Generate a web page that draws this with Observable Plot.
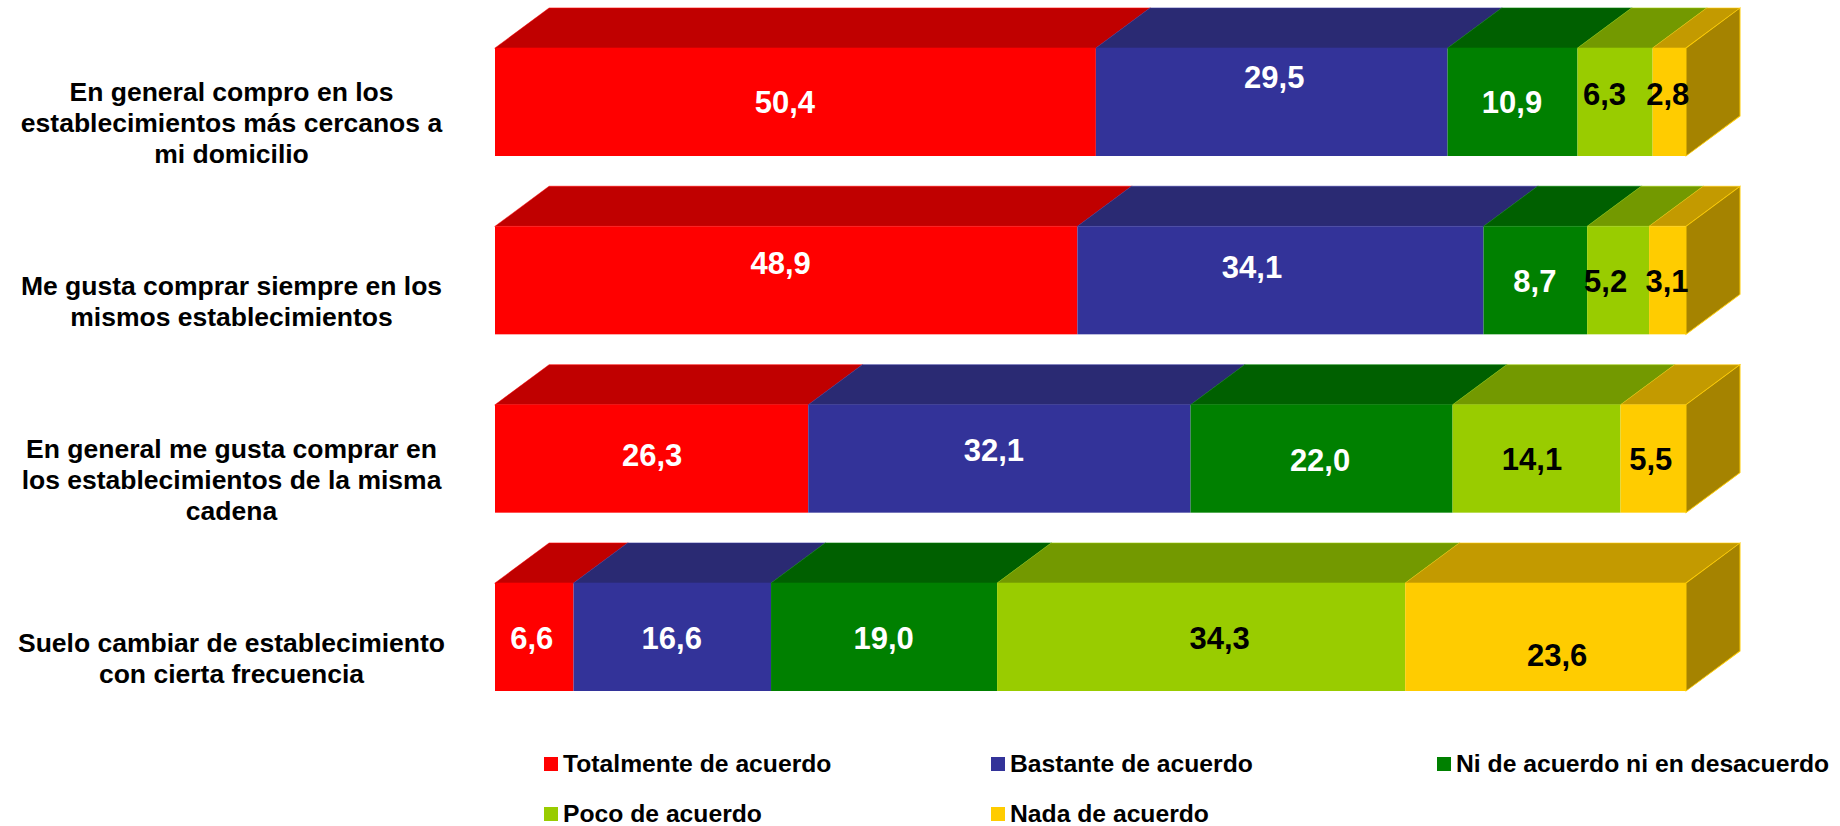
<!DOCTYPE html>
<html lang="es">
<head>
<meta charset="utf-8">
<script src="https://cdn.jsdelivr.net/npm/d3@7"></script>
<script src="https://cdn.jsdelivr.net/npm/@observablehq/plot@0.6"></script>
<style>
  html,body{margin:0;background:#fff;overflow:hidden;width:1840px;height:826px}
  body{font-family:"Liberation Sans",Arial,sans-serif;font-weight:bold;color:#000}
  #chart svg{display:block}
  #legend{box-sizing:border-box;height:81px;padding:6px 0 0 544px;display:grid;
    grid-template-columns:447px 446px auto;grid-auto-rows:26px;row-gap:24px;
    font-size:24.7px;line-height:26px}
  #legend .item{display:flex;align-items:center;white-space:nowrap}
  #legend .sw{width:14px;height:14px;margin-right:5px;flex:none}
</style>
</head>
<body>
<div id="chart"></div>
<div id="legend"></div>
<script>
// ---- data ----
const rows = [
  "En general compro en los\nestablecimientos más cercanos a\nmi domicilio",
  "Me gusta comprar siempre en los\nmismos establecimientos",
  "En general me gusta comprar en\nlos establecimientos de la misma\ncadena",
  "Suelo cambiar de establecimiento\ncon cierta frecuencia"
];
const series = [
  "Totalmente de acuerdo",
  "Bastante de acuerdo",
  "Ni de acuerdo ni en desacuerdo",
  "Poco de acuerdo",
  "Nada de acuerdo"
];
const totalmente = [50.4, 48.9, 26.3, 6.6];
const bastante   = [29.5, 34.1, 32.1, 16.6];
const niNi       = [10.9,  8.7, 22.0, 19.0];
const poco       = [ 6.3,  5.2, 14.1, 34.3];
const nada       = [ 2.8,  3.1,  5.5, 23.6];
const seriesValues = [totalmente, bastante, niNi, poco, nada];

// ---- styling and layout ----
const frontColors = ["#ff0000", "#333399", "#008000", "#99cc00", "#ffcc00"];
const topColors   = ["#c00000", "#2a2a73", "#006000", "#739900", "#c39a00"];
const sideColor   = "#a58300";
const labelColors = ["#fff", "#fff", "#fff", "#000", "#000"];
const depthX = 54 / 1191;   // depth of the extrusion, in stack units
const depthY = 40;          // in pixels
// hand placement of the value labels in the reference: [dx, dy] per row, per series
const nudges = [
  [[-11, 1], [2, -24], [-1, 1], [-11, -7], [-2, -7]],
  [[-6, -17], [-29, -13], [-1, 1], [-13, 1], [-1, 1]],
  [[0, -3], [-6, -8], [-2, 2], [-5, 1], [-3, 1]],
  [[-3, 2], [-1, 2], [-1, 2], [18, 2], [11, 19]]
];

const table = rows.flatMap((row, r) => series.map((s, k) => ({
  row, series: s, value: seriesValues[k][r], r, k
})));

const font = '"Liberation Sans", Arial, sans-serif';

function skewTop(index, scales, values, dims, ctx, next) {
  const g = next(index, scales, values, dims, ctx);
  const slope = (scales.x(1 + depthX) - scales.x(1)) / depthY;
  d3.select(g).selectAll("rect").each(function () {
    const y = +this.getAttribute("y");
    this.setAttribute("y", y - depthY);
    this.setAttribute("height", depthY);
    this.setAttribute("transform", `matrix(1,0,${-slope},1,${slope * y},0)`);
  });
  return g;
}
function skewSide(index, scales, values, dims, ctx, next) {
  const g = next(index, scales, values, dims, ctx);
  const slope = depthY / (scales.x(1 + depthX) - scales.x(1));
  d3.select(g).selectAll("rect").each(function () {
    const x = +this.getAttribute("x");
    this.setAttribute("transform", `matrix(1,${-slope},0,1,0,${slope * x})`);
  });
  return g;
}
function nudgeLabels(index, scales, values, dims, ctx, next) {
  const g = next(index, scales, values, dims, ctx);
  d3.select(g).selectAll("text").each(function (_, i) {
    const d = table[index[i]];
    const [dx, dy] = nudges[d.r][d.k];
    this.setAttribute("dx", dx);
    this.setAttribute("dy", dy);
  });
  return g;
}

const stack = (opts) => Plot.stackX({
  x: "value", y: "row", z: "series", offset: "normalize", ...opts
});

const plot = Plot.plot({
  width: 1840,
  height: 745,
  marginLeft: 495,
  marginRight: 100,
  marginTop: 48,
  marginBottom: 54,
  style: {fontFamily: font, fontWeight: "bold", background: "#fff", overflow: "visible"},
  x: {axis: null, domain: [0, 1], range: [495, 1686]},
  y: {type: "band", domain: rows, range: [48, 691], paddingInner: 0.3944, paddingOuter: 0, round: false, axis: null},
  color: {domain: series, range: frontColors},
  marks: [
    Plot.barX(table, stack({
      fill: d => topColors[d.k], stroke: "series", strokeWidth: 1, strokeOpacity: 0.6, render: skewTop
    })),
    Plot.barX(rows, {
      x1: 1, x2: 1 + depthX, y: d => d,
      fill: sideColor, stroke: frontColors[4], strokeWidth: 1, render: skewSide
    }),
    Plot.barX(table, stack({fill: "series"})),
    Plot.axisY({
      anchor: "left", tickSize: 0, tickPadding: 264, textAnchor: "middle", lineAnchor: "middle",
      fontSize: 26.5, fontWeight: "bold", fill: "#000", lineHeight: 1.17, dy: 20,
      label: null, lineWidth: Infinity
    }),
    Plot.text(table, stack({
      text: d => d.value.toFixed(1).replace(".", ","),
      fill: d => labelColors[d.k],
      fontSize: 31, fontWeight: "bold", render: nudgeLabels
    }))
  ]
});
document.getElementById("chart").append(plot);

const legend = d3.select("#legend");
series.forEach((s, k) => {
  const item = legend.append("div").attr("class", "item");
  item.append("span").attr("class", "sw").style("background", frontColors[k]);
  item.append("span").text(s);
});
</script>
</body>
</html>
